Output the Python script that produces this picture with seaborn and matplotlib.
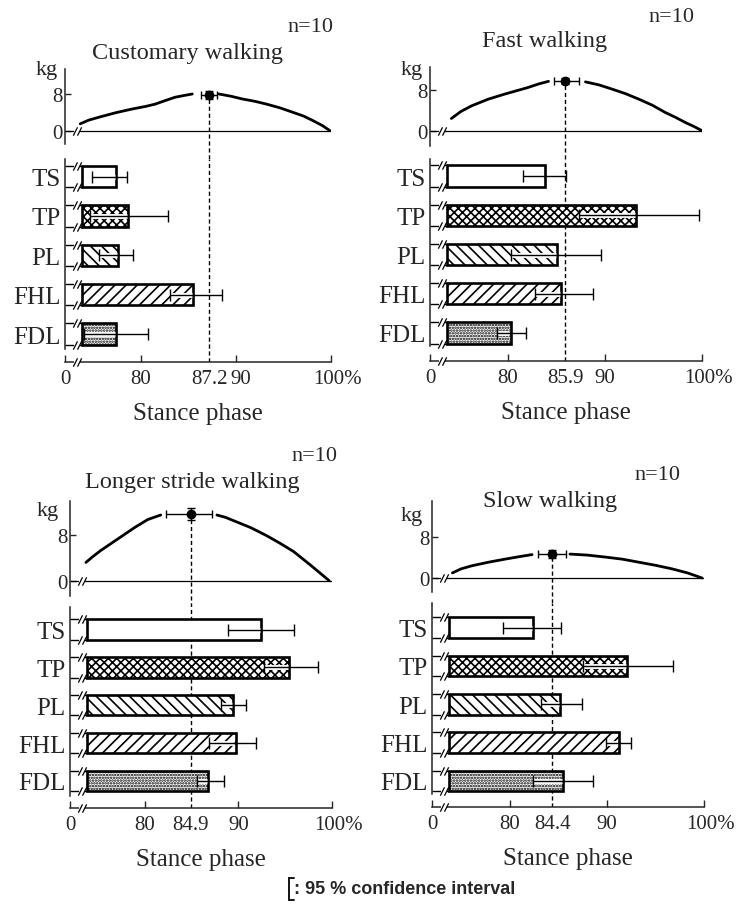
import matplotlib
matplotlib.use("Agg")
import matplotlib.pyplot as plt
import matplotlib.transforms as mtransforms
from matplotlib.lines import Line2D
from matplotlib.path import Path
import seaborn as sns

# ── Data ──────────────────────────────────────────────────────────────────────
MUSCLES = ["TS", "TP", "PL", "FHL", "FDL"]
CONDITIONS = ["Customary walking", "Fast walking", "Longer stride walking", "Slow walking"]
N_SUBJECTS = [10, 10, 10, 10]

# peak load (kg) and its position in stance phase (%), with 95% CI
PEAK_PHASE = [87.2, 85.9, 84.9, 84.4]
PEAK_LOAD = [7.8, 9.8, 11.7, 4.7]
PEAK_PHASE_CI_LO = [0.9, 1.1, 2.6, 1.5]
PEAK_PHASE_CI_HI = [0.8, 1.4, 2.3, 1.4]
PEAK_LOAD_CI = [0.9, 0.6, 1.0, 0.8]

# load curves (kg vs % stance), before and after the peak marker
CUSTOMARY_X_BEFORE = [73.6, 74.5, 75.5, 77.3, 79.0, 80.5, 81.5, 82.6, 83.6, 84.6, 85.4]
CUSTOMARY_Y_BEFORE = [1.5, 2.3, 2.9, 3.9, 4.7, 5.3, 5.8, 6.6, 7.3, 7.7, 8.0]
CUSTOMARY_X_AFTER = [88.2, 89.5, 90.7, 92.0, 93.2, 94.6, 96.0, 97.1, 98.1, 99.1, 99.9]
CUSTOMARY_Y_AFTER = [8.0, 7.5, 6.9, 6.4, 5.8, 5.0, 4.0, 3.2, 2.2, 1.1, 0.0]

FAST_X_BEFORE = [74.2, 75.2, 76.3, 78.0, 79.7, 81.0, 82.1, 83.2, 84.2]
FAST_Y_BEFORE = [2.4, 3.8, 4.9, 6.2, 7.2, 7.9, 8.5, 9.2, 9.7]
FAST_X_AFTER = [88.0, 89.4, 90.7, 92.1, 93.5, 94.9, 96.2, 97.3, 98.3, 99.2, 100.0]
FAST_Y_AFTER = [9.6, 9.0, 8.2, 7.3, 6.2, 5.0, 3.6, 2.6, 1.6, 0.8, 0.0]

LONGER_X_BEFORE = [73.7, 74.5, 75.3, 76.2, 77.1, 78.0, 78.9, 79.6, 80.3, 81.0, 81.7]
LONGER_Y_BEFORE = [3.2, 4.3, 5.3, 6.3, 7.3, 8.3, 9.3, 10.0, 10.7, 11.1, 11.5]
LONGER_X_AFTER = [87.7, 88.6, 89.5, 91.3, 93.0, 94.5, 95.9, 97.8, 99.7]
LONGER_Y_AFTER = [11.5, 11.1, 10.5, 9.3, 7.9, 6.5, 5.1, 2.6, 0.0]

SLOW_X_BEFORE = [74.1, 75.0, 76.1, 77.8, 79.5, 81.0, 82.3]
SLOW_Y_BEFORE = [1.0, 1.8, 2.4, 3.1, 3.7, 4.2, 4.6]
SLOW_X_AFTER = [86.2, 88.0, 89.9, 91.6, 93.3, 95.0, 96.7, 98.3, 99.8]
SLOW_Y_AFTER = [4.7, 4.5, 4.1, 3.7, 3.1, 2.5, 1.8, 1.0, 0.0]

# end of muscle activity (% stance) with 95% CI, order = MUSCLES
CUSTOMARY_END = [77.4, 78.6, 77.6, 85.5, 77.4]
CUSTOMARY_LO = [74.8, 74.6, 75.6, 83.1, 74.0]
CUSTOMARY_HI = [78.5, 82.8, 79.2, 88.5, 80.7]

FAST_END = [83.8, 93.2, 85.1, 85.5, 80.3]
FAST_LO = [81.6, 87.3, 80.3, 82.8, 78.9]
FAST_HI = [86.0, 99.7, 89.6, 88.8, 81.9]

LONGER_END = [92.4, 95.4, 89.4, 89.7, 86.8]
LONGER_LO = [88.9, 92.7, 88.1, 86.9, 85.6]
LONGER_HI = [95.9, 98.5, 90.8, 91.9, 88.5]

SLOW_END = [82.4, 92.1, 85.2, 91.2, 85.5]
SLOW_LO = [79.3, 87.5, 83.2, 89.9, 82.4]
SLOW_HI = [85.3, 96.8, 87.4, 92.5, 88.6]

CURVES = [
    (CUSTOMARY_X_BEFORE, CUSTOMARY_Y_BEFORE, CUSTOMARY_X_AFTER, CUSTOMARY_Y_AFTER),
    (FAST_X_BEFORE, FAST_Y_BEFORE, FAST_X_AFTER, FAST_Y_AFTER),
    (LONGER_X_BEFORE, LONGER_Y_BEFORE, LONGER_X_AFTER, LONGER_Y_AFTER),
    (SLOW_X_BEFORE, SLOW_Y_BEFORE, SLOW_X_AFTER, SLOW_Y_AFTER),
]
BARS = [
    (CUSTOMARY_END, CUSTOMARY_LO, CUSTOMARY_HI),
    (FAST_END, FAST_LO, FAST_HI),
    (LONGER_END, LONGER_LO, LONGER_HI),
    (SLOW_END, SLOW_LO, SLOW_HI),
]

# ── Style / layout ────────────────────────────────────────────────────────────
W, H = 744, 912
XMIN, BREAK, BAR_START = 72.0, 73.25, 73.8
HATCHES = ["", "xxxx", "\\\\\\", "///", "......"]

# pixel geometry of each panel (top-left origin)
LAYOUT = [
    dict(x0=65, x1=331, ft=70, fb=145, y0=131.7, y8=95, bt=160, c0=177.5, c4=335,
         sb=350, axis=363, title=(188, 53), n=(333, 27), kg=(47, 70)),
    dict(x0=430, x1=702, ft=68, fb=147, y0=131.7, y8=91, bt=160, c0=177, c4=334,
         sb=347, axis=362, title=(545, 42), n=(694, 18), kg=(412, 70)),
    dict(x0=70, x1=332, ft=502, fb=597, y0=581.7, y8=536, bt=608, c0=630.5, c4=782,
         sb=797, axis=809, title=(192, 483), n=(337, 457), kg=(48, 512)),
    dict(x0=432, x1=704, ft=502, fb=593, y0=579, y8=538.3, bt=604, c0=628.5, c4=782,
         sb=795, axis=808, title=(550, 502), n=(680, 475), kg=(412, 516)),
]

sns.set_style("ticks")
plt.rcParams["font.family"] = ["Liberation Serif", "DejaVu Serif"]
plt.rcParams["hatch.linewidth"] = 1.2
plt.rcParams["axes.linewidth"] = 1.1

SLASHES = Path([(-1.0, -1.0), (0.0, 1.0), (0.0, -1.0), (1.0, 1.0)],
               [Path.MOVETO, Path.LINETO, Path.MOVETO, Path.LINETO])
DASH = (0, (3, 2))


def px_rect(x0, x1, top, bottom):
    return [x0 / W, 1 - bottom / H, (x1 - x0) / W, (bottom - top) / H]


def fig_xy(p):
    return p[0] / W, 1 - p[1] / H


def break_mark(ax, y):
    ax.plot([BREAK], [y], marker="_", ms=5, mew=3, color="white", clip_on=False, zorder=6)
    ax.plot([BREAK], [y], marker=SLASHES, ms=6, mew=0.9, color="black",
            mfc="none", clip_on=False, zorder=7)


def load_panel(ax, g, curve, peak, load, ci_lo, ci_hi, load_ci):
    k = 8.0 / (g["y0"] - g["y8"])
    lim_lo = (g["y0"] - g["bt"]) * k
    ax.set_xlim(XMIN, 100)
    ax.set_ylim(lim_lo, (g["y0"] - g["ft"]) * k)
    for s in ["top", "right", "bottom"]:
        ax.spines[s].set_visible(False)
    ax.spines["left"].set_bounds((g["y0"] - g["fb"]) * k, (g["y0"] - g["ft"]) * k)
    ax.axhline(0, color="black", lw=0.9, zorder=2)
    xb, yb, xa, ya = curve
    sns.lineplot(x=xb, y=yb, ax=ax, color="black", lw=2.0, sort=False)
    sns.lineplot(x=xa, y=ya, ax=ax, color="black", lw=2.0, sort=False)
    ax.errorbar([peak], [load], xerr=[[ci_lo], [ci_hi]], yerr=[load_ci], fmt="o",
                color="black", ms=6, elinewidth=1, capsize=3, capthick=1, zorder=5)
    ax.vlines(peak, lim_lo, load, color="black", lw=1, linestyles=DASH, zorder=1)
    break_mark(ax, 0)
    ax.set_xticks([])
    ax.set_yticks([0, 8])
    ax.tick_params(axis="y", direction="in", length=4, width=1, labelsize=15, pad=2)
    ax.set_xlabel("")
    ax.set_ylabel("")


def bar_panel(ax, g, end, lo, hi, peak):
    sns.barplot(x=end, y=MUSCLES, ax=ax, orient="y", color="white", saturation=1,
                edgecolor="black", linewidth=1.9, width=0.54, errorbar=None, zorder=2)
    ys = []
    for p, hatch in zip(ax.patches, HATCHES):
        p.set_width(p.get_width() - BAR_START)
        p.set_x(BAR_START)
        p.set_hatch(hatch)
        p.set_facecolor("white")
        top, bot = p.get_y(), p.get_y() + p.get_height()
        ax.hlines([top, bot], XMIN, BAR_START, color="black", lw=1, zorder=2)
        break_mark(ax, top)
        break_mark(ax, bot)
        ys.append(p.get_y() + p.get_height() / 2)

    ax.hlines(ys, lo, [e - 0.12 for e in end], color="white", lw=3.5, zorder=3,
              capstyle="butt")
    ax.errorbar(end, ys, xerr=[[e - l for e, l in zip(end, lo)],
                               [h - e for e, h in zip(end, hi)]],
                fmt="none", ecolor="black", elinewidth=1, capsize=4, capthick=1, zorder=4)
    ax.axvline(peak, color="black", lw=1, ls=DASH, zorder=1)

    s = (g["c4"] - g["c0"]) / (len(MUSCLES) - 1)
    y_top = -(g["c0"] - g["bt"]) / s
    y_bot = (len(MUSCLES) - 1) + (g["axis"] - g["c4"]) / s
    ax.set_ylim(y_bot, y_top)
    ax.set_xlim(XMIN, 100)
    for sp in ["top", "right"]:
        ax.spines[sp].set_visible(False)
    ax.spines["left"].set_bounds(y_top, (len(MUSCLES) - 1) + (g["sb"] - g["c4"]) / s)
    break_mark(ax, y_bot)

    ax.set_xticks([XMIN, 80, 90, 100], ["0", "80", "90", "100%"])
    ax.set_xticks([peak], [f"{peak:.1f}"], minor=True)
    ax.tick_params(axis="x", which="major", direction="in", length=5, width=1,
                   labelsize=15, pad=5)
    ax.tick_params(axis="x", which="minor", direction="in", length=0, labelsize=15, pad=5)
    ax.tick_params(axis="y", length=0, labelsize=18, pad=3)
    labels = ax.get_xticklabels()
    shift_100 = mtransforms.ScaledTranslation(6 / 100, 0, ax.figure.dpi_scale_trans)
    labels[3].set_transform(labels[3].get_transform() + shift_100)
    if abs(90 - peak) < 3.5:
        shift_90 = mtransforms.ScaledTranslation(5 / 100, 0, ax.figure.dpi_scale_trans)
        labels[2].set_transform(labels[2].get_transform() + shift_90)
    ax.set_ylabel("")
    ax.set_xlabel("Stance phase", fontsize=18, labelpad=10)


fig = plt.figure(figsize=(W / 100, H / 100), dpi=100)
fig.patch.set_facecolor("white")

for i, g in enumerate(LAYOUT):
    ax_f = fig.add_axes(px_rect(g["x0"], g["x1"], g["ft"], g["bt"]))
    ax_f.patch.set_alpha(0)
    load_panel(ax_f, g, CURVES[i], PEAK_PHASE[i], PEAK_LOAD[i],
               PEAK_PHASE_CI_LO[i], PEAK_PHASE_CI_HI[i], PEAK_LOAD_CI[i])
    ax_b = fig.add_axes(px_rect(g["x0"], g["x1"], g["bt"], g["axis"]))
    ax_b.patch.set_alpha(0)
    end, lo, hi = BARS[i]
    bar_panel(ax_b, g, end, lo, hi, PEAK_PHASE[i])

    tx, ty = fig_xy(g["title"])
    fig.text(tx, ty, CONDITIONS[i], ha="center", va="center", fontsize=17.5)
    nx, ny = fig_xy(g["n"])
    fig.text(nx, ny, f"n={N_SUBJECTS[i]}", ha="right", va="center", fontsize=16)
    kx, ky = fig_xy(g["kg"])
    fig.text(kx, ky, "kg", ha="center", va="center", fontsize=16)

# legend: error-bar glyph + text
lx, ly = fig_xy((289, 890))
fig.add_artist(Line2D([lx, lx], [ly - 11 / H, ly + 11 / H], color="black", lw=1.3,
                      transform=fig.transFigure))
for dy in (-11, 11):
    fig.add_artist(Line2D([lx, lx + 5 / W], [ly + dy / H] * 2, color="black", lw=1.3,
                          transform=fig.transFigure))
fig.text(lx + 5 / W, ly, ": 95 % confidence interval", ha="left", va="center",
         fontsize=13, fontweight="bold", family=["Liberation Sans", "DejaVu Sans"])

fig.savefig("out.png", dpi=100, facecolor="white")
